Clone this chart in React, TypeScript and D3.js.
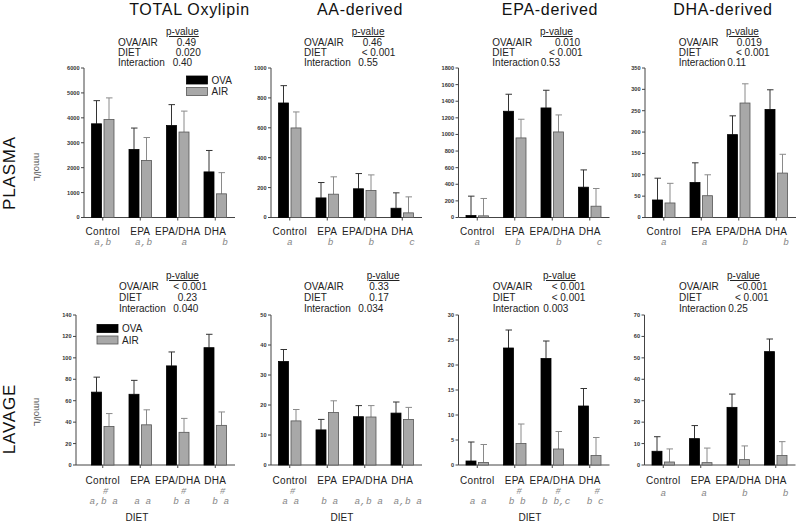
import React from "react";
import * as d3 from "d3";

// ---------- DATA ----------
const categories = ["Control", "EPA", "EPA/DHA", "DHA"];
const seriesNames = ["OVA", "AIR"];
const pLabels = ["OVA/AIR", "DIET", "Interaction"];
const panelTitles = ["TOTAL Oxylipin", "AA-derived", "EPA-derived", "DHA-derived"];
const rowTitles = ["PLASMA", "LAVAGE"];
const unitLabel = "nmol/L";
const xAxisTitle = "DIET";

// Plasma
const totalPlasmaOVA = [3760, 2730, 3690, 1830];
const totalPlasmaOVAErr = [930, 860, 840, 860];
const totalPlasmaAIR = [3930, 2290, 3430, 950];
const totalPlasmaAIRErr = [870, 920, 840, 850];

const aaPlasmaOVA = [766, 131, 192, 62];
const aaPlasmaOVAErr = [116, 103, 102, 103];
const aaPlasmaAIR = [599, 156, 180, 31];
const aaPlasmaAIRErr = [107, 116, 105, 107];

const epaPlasmaOVA = [24, 1279, 1319, 365];
const epaPlasmaOVAErr = [233, 205, 213, 208];
const epaPlasmaAIR = [20, 958, 1030, 136];
const epaPlasmaAIRErr = [209, 225, 205, 213];

const dhaPlasmaOVA = [41, 82, 194, 253];
const dhaPlasmaOVAErr = [51, 46, 44, 46];
const dhaPlasmaAIR = [34, 51, 268, 104];
const dhaPlasmaAIRErr = [46, 49, 45, 44];

// Lavage
const totalLavageOVA = [68, 66, 92.5, 109.5];
const totalLavageOVAErr = [14, 13, 13, 12.5];
const totalLavageAIR = [36, 37.5, 30.5, 37];
const totalLavageAIRErr = [12, 14, 13, 12.5];

const aaLavageOVA = [34.5, 11.7, 16.1, 17.3];
const aaLavageOVAErr = [4, 3.5, 3.7, 3.7];
const aaLavageAIR = [14.7, 17.5, 16, 15.2];
const aaLavageAIRErr = [3.8, 3.9, 3.8, 4];

const epaLavageOVA = [0.8, 23.4, 21.3, 11.8];
const epaLavageOVAErr = [3.8, 3.6, 3.5, 3.5];
const epaLavageAIR = [0.5, 4.3, 3.2, 1.9];
const epaLavageAIRErr = [3.6, 3.9, 3.5, 3.6];

const dhaLavageOVA = [6.4, 12.3, 26.9, 52.9];
const dhaLavageOVAErr = [6.8, 6.1, 6.2, 5.9];
const dhaLavageAIR = [1.4, 1.1, 2.5, 4.4];
const dhaLavageAIRErr = [6.1, 6.8, 6.4, 6.5];

const yMaxes = [6000, 1000, 1800, 350, 140, 50, 30, 70];
const ySteps = [1000, 200, 200, 50, 20, 10, 5, 10];

const pValues = [
  ["0.49", "0.020", "0.40"],
  ["0.46", "< 0.001", "0.55"],
  ["0.010", "< 0.001", "0.53"],
  ["0.019", "< 0.001", "0.11"],
  ["< 0.001", "0.23", "0.040"],
  ["0.33", "0.17", "0.034"],
  ["< 0.001", "< 0.001", "0.003"],
  ["<0.001", "< 0.001", "0.25"],
];

const groupLetters = [
  ["a,b", "a,b", "a", "b"],
  ["a", "b", "b", "c"],
  ["a", "b", "b", "c"],
  ["a", "a", "b", "b"],
  ["a,b a", "a a", "b a", "b a"],
  ["a a", "b a", "a,b a", "a,b a"],
  ["a a", "b b", "b b,c", "b c"],
  ["a", "a", "b", "b"],
];
const hashMarks = [
  [false, false, false, false],
  [false, false, false, false],
  [false, false, false, false],
  [false, false, false, false],
  [true, false, true, true],
  [true, false, false, false],
  [false, true, true, true],
  [false, false, false, false],
];

const ovaSets = [totalPlasmaOVA, aaPlasmaOVA, epaPlasmaOVA, dhaPlasmaOVA, totalLavageOVA, aaLavageOVA, epaLavageOVA, dhaLavageOVA];
const ovaErrs = [totalPlasmaOVAErr, aaPlasmaOVAErr, epaPlasmaOVAErr, dhaPlasmaOVAErr, totalLavageOVAErr, aaLavageOVAErr, epaLavageOVAErr, dhaLavageOVAErr];
const airSets = [totalPlasmaAIR, aaPlasmaAIR, epaPlasmaAIR, dhaPlasmaAIR, totalLavageAIR, aaLavageAIR, epaLavageAIR, dhaLavageAIR];
const airErrs = [totalPlasmaAIRErr, aaPlasmaAIRErr, epaPlasmaAIRErr, dhaPlasmaAIRErr, totalLavageAIRErr, aaLavageAIRErr, epaLavageAIRErr, dhaLavageAIRErr];

// ---------- LAYOUT ----------
const W = 797, H = 523;
const FONT = "'Liberation Sans', Arial, sans-serif";
const MONO = "'Liberation Mono', 'DejaVu Sans Mono', monospace";
const bandX = [84, 271, 458.5, 645, 84, 271, 458.5, 644.5];
const axisX = [84, 271, 458.5, 645, 76, 271, 458.5, 644.5];
const rowYs = [[68, 217.5], [315, 465]];
const bandW = 150;
const titleX = [189.5, 360, 550, 723];
const pLabelX = [118, 304, 492.3, 678.7, 119, 304, 492.7, 679];
const pValOff = [
  [58.7, 57.7, 54.7], [58.7, 57.7, 54.3], [62.7, 56.7, 48.4], [58, 57.3, 48.6],
  [54.3, 58.7, 54.3], [65.3, 65.3, 54.3], [59, 59, 50.6], [57.7, 56, 49.3],
];
const pHeadOff = [48, 47.7, 47.7, 47.3, 47, 62.7, 50.3, 48];
const pBase = [[35, 46.3, 56.3, 66.3], [279, 289.8, 300.5, 311.5]];
const dietX = [137, 342, 530, 724];
const colors = { OVA: "#000000", AIR: "#a8a8a8" };
const errColors = { OVA: "#333333", AIR: "#8a8a8a" };

function Panel({ idx }: { idx: number }) {
  const row = idx < 4 ? 0 : 1;
  const [yTop, yBot] = rowYs[row];
  const bx = bandX[idx];
  const ax = axisX[idx];
  const x = d3.scaleBand<string>().domain(categories).range([bx, bx + bandW]).padding(0);
  const xs = d3.scaleBand<string>().domain(seriesNames).range([0, 22.5]).paddingInner(0.2).paddingOuter(0);
  const y = d3.scaleLinear().domain([0, yMaxes[idx]]).range([yBot, yTop]);
  const ticks = d3.range(0, yMaxes[idx] + ySteps[idx] / 2, ySteps[idx]);
  const inner = (x.bandwidth() - 22.5) / 2;
  const lx = pLabelX[idx];
  const pb = pBase[row];
  const compactLetters = row === 1 && idx !== 7;
  const labelBase = row === 0 ? 235 : 484;
  const letterBase = row === 0 ? 245 : idx === 7 ? 495.5 : 503.5;

  return (
    <g>
      <text x={lx + pHeadOff[idx]} y={pb[0]} fontSize={10} fill="#222" textDecoration="underline">p-value</text>
      {pLabels.map((l, i) => (
        <g key={l}>
          <text x={lx} y={pb[i + 1]} fontSize={10} fill="#222">{l}</text>
          <text x={lx + pValOff[idx][i]} y={pb[i + 1]} fontSize={10} fill="#222">{pValues[idx][i]}</text>
        </g>
      ))}
      <line x1={ax} x2={ax} y1={yTop} y2={yBot} stroke="#444" strokeWidth={1} />
      {ticks.map((t) => (
        <g key={t}>
          <line x1={ax - 3} x2={ax} y1={y(t)} y2={y(t)} stroke="#444" />
          <text x={ax - 4.5} y={y(t)} dy="0.35em" textAnchor="end" fontSize={5.6} fontWeight="bold" fill="#333">{t}</text>
        </g>
      ))}
      <line x1={ax} x2={bx + bandW + 1} y1={yBot} y2={yBot} stroke="#444" strokeWidth={1} />
      {categories.map((c) => (
        <line key={c} x1={x(c)! + x.bandwidth() / 2} x2={x(c)! + x.bandwidth() / 2} y1={yBot} y2={yBot + 3} stroke="#444" />
      ))}
      {categories.map((c, ci) =>
        seriesNames.map((s) => {
          const v = s === "OVA" ? ovaSets[idx][ci] : airSets[idx][ci];
          const e = s === "OVA" ? ovaErrs[idx][ci] : airErrs[idx][ci];
          const x0 = x(c)! + inner + xs(s)!;
          const w = xs.bandwidth();
          const cx = x0 + w / 2;
          return (
            <g key={c + s}>
              <line x1={cx} x2={cx} y1={y(v)} y2={y(v + e)} stroke={(errColors as any)[s]} strokeWidth={1} />
              <line x1={cx - 3} x2={cx + 3.5} y1={y(v + e)} y2={y(v + e)} stroke={(errColors as any)[s]} strokeWidth={1} />
              <rect x={x0} y={y(v)} width={w} height={yBot - y(v)} fill={(colors as any)[s]} stroke={s === "OVA" ? "#000" : "#555"} strokeWidth={0.8} />
            </g>
          );
        })
      )}
      {categories.map((c) => (
        <text key={c} x={x(c)! + x.bandwidth() / 2} y={labelBase} textAnchor="middle" fontSize={10} fill="#222" letterSpacing={0.3}>{c}</text>
      ))}
      {categories.map((c, ci) => {
        const off = compactLetters ? ci * 1.5 + 1 : ci * 3.3;
        const cx = x(c)! + x.bandwidth() / 2 + off;
        return (
          <g key={"l" + c}>
            {hashMarks[idx][ci] && (
              <text x={cx + 2} y={494} textAnchor="middle" fontSize={9} fontStyle="italic" fontFamily={MONO} fill="#888">#</text>
            )}
            <text x={cx} y={letterBase} textAnchor="middle" fontSize={9.5} fontStyle="italic" fontFamily={MONO} fill="#888">{groupLetters[idx][ci]}</text>
          </g>
        );
      })}
      {row === 1 && (
        <text x={dietX[idx - 4]} y={521} textAnchor="middle" fontSize={10} fill="#222">{xAxisTitle}</text>
      )}
      {row === 0 && (
        <text x={titleX[idx]} y={15} textAnchor="middle" fontSize={16} letterSpacing={0.7} fill="#111">{panelTitles[idx]}</text>
      )}
    </g>
  );
}

function Legend({ x0, y0 }: { x0: number; y0: number }) {
  return (
    <g>
      {seriesNames.map((s, i) => (
        <g key={s}>
          <rect x={x0} y={y0 + i * 11.5} width={21} height={8} fill={(colors as any)[s]} stroke={s === "OVA" ? "#000" : "#555"} strokeWidth={0.8} />
          <text x={x0 + 25} y={y0 + i * 11.5 + 7.8} fontSize={10} fill="#222">{s}</text>
        </g>
      ))}
    </g>
  );
}

export default function App() {
  return (
    <svg width={W} height={H} style={{ position: "absolute", left: 0, top: 0, background: "#fff" }} fontFamily={FONT}>
      <rect x={0} y={0} width={W} height={H} fill="#fff" />
      {d3.range(8).map((i) => (
        <Panel key={i} idx={i} />
      ))}
      <Legend x0={186.5} y0={76} />
      <Legend x0={97} y0={324.5} />
      {rowTitles.map((t, i) => (
        <g key={t}>
          <text transform={`translate(15,${i === 0 ? 173 : 419}) rotate(-90)`} textAnchor="middle" fontSize={17} letterSpacing={0.8} fill="#111">{t}</text>
          <text transform={`translate(33.5,${i === 0 ? 167 : 412}) rotate(90)`} textAnchor="middle" fontSize={9.5} fill="#555">{unitLabel}</text>
        </g>
      ))}
    </svg>
  );
}
